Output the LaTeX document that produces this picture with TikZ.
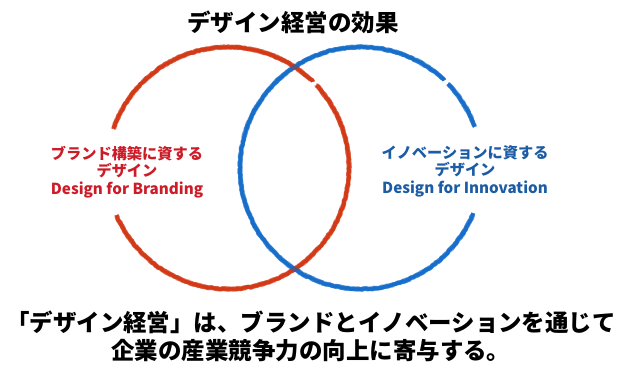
\documentclass[tikz,border=0pt]{standalone}
\usepackage{fontspec}
\setmainfont{Noto Sans CJK JP}
\usetikzlibrary{decorations.pathmorphing}

\definecolor{brandred}{RGB}{208,50,14}
\definecolor{innovblue}{RGB}{14,104,200}
\definecolor{brandtext}{RGB}{204,28,40}
\definecolor{innovtext}{RGB}{28,92,164}

\tikzset{
  chalk/.style={line width=2.8pt, opacity=.42, line cap=butt, line join=round, decorate,
    decoration={random steps, segment length=1.4pt, amplitude=.8pt}},
  heading/.style={font=\fontsize{17.6}{21}\selectfont\bfseries, align=center},
  circlabel/.style={font=\fontsize{11.4}{13.2}\selectfont\bfseries, align=center}
}

\begin{document}
\begin{tikzpicture}[x=0.75pt, y=0.75pt]
        \useasboundingbox (0,0) rectangle (626,-365);
        \pgfmathsetseed{7}

        \coordinate (brand) at (228, -168);
        \coordinate (innov) at (361, -168);

        % two open rings, each pass drawn a few times for the crayon look
        \foreach \k in {1,...,6} {
            \draw[chalk, brandred] (brand) ++(-157:121) arc[start angle=-157, end angle=43, radius=121];
            \draw[chalk, brandred] (brand) ++(45.5:121) arc[start angle=45.5, end angle=161, radius=121];
            \draw[chalk, innovblue] (innov) ++(20:121) arc[start angle=20, end angle=44, radius=121];
            \draw[chalk, innovblue] (innov) ++(46.5:121) arc[start angle=46.5, end angle=338, radius=121];
        }

        \node[heading] (title) at (293, -22) {デザイン経営の効果};

        \node[circlabel, text=brandtext] (branding) at (127, -172)
            {ブランド構築に資する\\デザイン\\Design for Branding};
        \node[circlabel, text=innovtext] (innovation) at (465, -171)
            {イノベーションに資する\\デザイン\\Design for Innovation};

        \node[heading] (summary) at (311, -336)
            {「デザイン経営」は、ブランドとイノベーションを通じて\\企業の産業競争力の向上に寄与する。};
\end{tikzpicture}
\end{document}
